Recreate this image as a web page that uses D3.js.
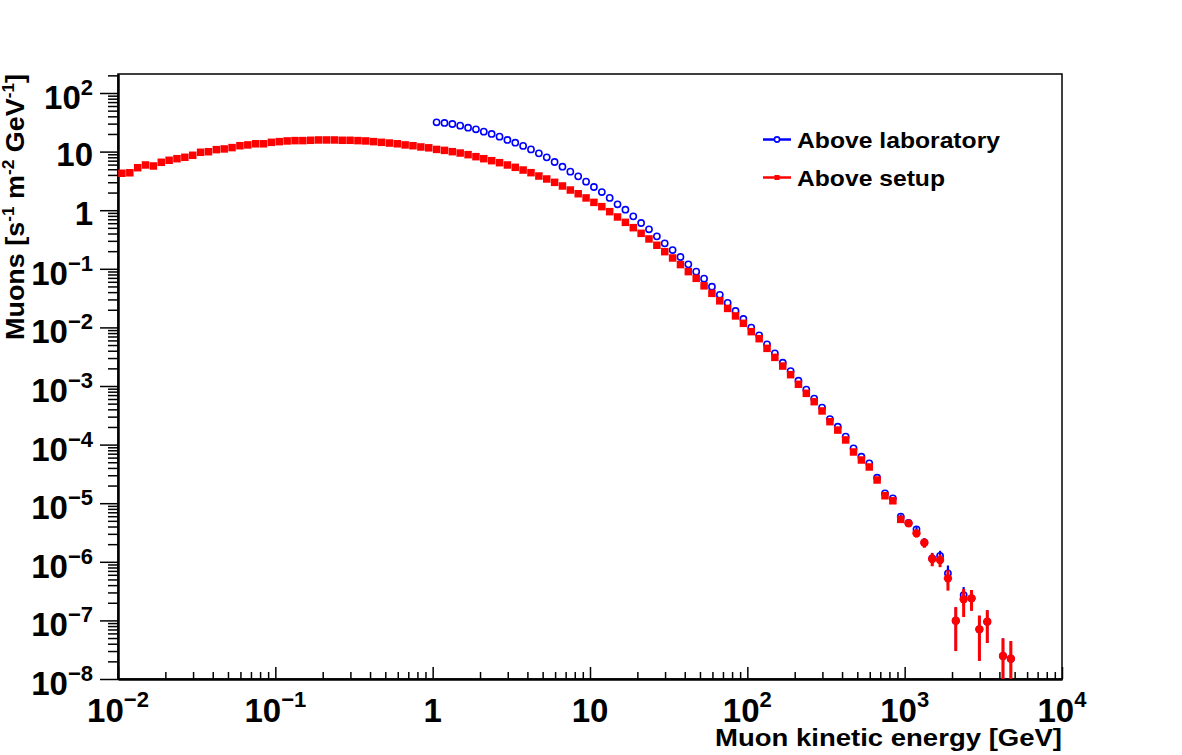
<!DOCTYPE html>
<html><head><meta charset="utf-8">
<script src="https://cdn.jsdelivr.net/npm/d3@7"></script>
<style>
body{margin:0;background:#fff}
svg text{font-family:"Liberation Sans",Arial,Helvetica,sans-serif;font-weight:bold;fill:#000}
</style>
</head><body>
<svg id="c" width="1182" height="755"></svg>
<script>
// ---- data ----
// bin centres (GeV), 20 log bins per decade
const energy = [
 0.01059,0.01189,0.01334,0.01496,0.01679,0.01884,0.02113,0.02371,0.02661,0.02985,
 0.03350,0.03758,0.04217,0.04732,0.05309,0.05957,0.06683,0.07499,0.08414,0.09441,
 0.1059,0.1189,0.1334,0.1496,0.1679,0.1884,0.2113,0.2371,0.2661,0.2985,
 0.3350,0.3758,0.4217,0.4732,0.5309,0.5957,0.6683,0.7499,0.8414,0.9441,
 1.059,1.189,1.334,1.496,1.679,1.884,2.113,2.371,2.661,2.985,
 3.350,3.758,4.217,4.732,5.309,5.957,6.683,7.499,8.414,9.441,
 10.59,11.89,13.34,14.96,16.79,18.84,21.13,23.71,26.61,29.85,
 33.50,37.58,42.17,47.32,53.09,59.57,66.83,74.99,84.14,94.41,
 105.9,118.9,133.4,149.6,167.9,188.4,211.3,237.1,266.1,298.5,
 335.0,375.8,421.7,473.2,530.9,595.7,668.3,749.9,841.4,944.1,
 1059,1189,1334,1496,1679,1884,2113,2371,2661,2985,
 3350,3758,4217,4732
];
// "Above setup" (red), one value per energy bin
const aboveSetup = [
 4.27,4.35,5.31,5.91,5.68,6.57,7.11,7.57,8.00,8.65,
 9.73,9.96,10.8,11.1,11.7,12.6,13.0,13.6,13.6,14.4,
 14.8,15.2,15.4,15.4,15.6,15.8,15.8,15.8,15.6,15.6,
 15.4,15.2,14.8,14.4,14.0,13.6,13.0,12.6,12.0,11.6,
 10.9,10.5,9.97,9.46,8.87,8.19,7.57,7.00,6.47,5.91,
 5.39,4.85,4.37,3.83,3.41,2.99,2.59,2.21,1.91,1.62,
 1.36,1.15,0.944,0.766,0.621,0.503,0.403,0.323,0.252,0.196,
 0.153,0.118,0.0894,0.0688,0.0512,0.0381,0.0284,0.0211,0.0157,0.01173,
 0.00846,0.00642,0.00439,0.00308,0.00219,0.00156,0.00107,7.50e-4,5.40e-4,3.75e-4,
 2.46e-4,1.77e-4,1.20e-4,7.48e-5,5.46e-5,4.15e-5,2.49e-5,1.34e-5,1.10e-5,5.30e-6,
 4.53e-6,3.06e-6,2.12e-6,1.12e-6,1.07e-6,5.22e-7,9.9e-8,2.29e-7,2.38e-7,7.04e-8,
 9.52e-8,null,2.47e-8,2.22e-8
];
// errors of "Above setup" (only the high-energy tail is visible)
const aboveSetupErr = [
 0,0,0,0,0,0,0,0,0,0, 0,0,0,0,0,0,0,0,0,0,
 0,0,0,0,0,0,0,0,0,0, 0,0,0,0,0,0,0,0,0,0,
 0,0,0,0,0,0,0,0,0,0, 0,0,0,0,0,0,0,0,0,0,
 0,0,0,0,0,0,0,0,0,0, 0,0,0,0,0,0,0,0,0,0,
 0,0,0,0,0,0,0,0,0,0, 0,0,0,0,0,0,0,0,0,5e-7,
 5e-7,4.5e-7,3.8e-7,2.8e-7,2.6e-7,2.0e-7,6.9e-8,1.15e-7,9.2e-8,5.0e-8,
 5.4e-8,0,2.47e-8,2.22e-8
];
// "Above laboratory" (blue) starts at energy bin 40
const labFirstBin = 40;
const aboveLab = [
 31.6,30.8,29.6,27.7,25.6,24.0,21.9,20.0,18.0,15.8,
 14.2,12.5,10.9,9.34,7.98,6.65,5.53,4.55,3.78,3.07,
 2.49,2.04,1.62,1.26,1.02,0.786,0.605,0.472,0.358,0.272,
 0.209,0.159,0.119,0.0894,0.0679,0.0494,0.0360,0.0262,0.0191,0.0139,
 0.00990,0.00732,0.00514,0.00361,0.00250,0.00180,0.00123,8.66e-4,6.08e-4,4.27e-4,
 2.73e-4,2.02e-4,1.37e-4,8.64e-5,6.22e-5,4.79e-5,2.72e-5,1.47e-5,1.21e-5,5.89e-6,
 4.6e-6,3.58e-6,2.15e-6,1.14e-6,1.26e-6,6.35e-7,9.9e-8,2.71e-7,2.38e-7,7.04e-8,
 9.52e-8,null,2.47e-8,2.22e-8
];
const aboveLabErr = [
 0,0,0,0,0,0,0,0,0,0, 0,0,0,0,0,0,0,0,0,0,
 0,0,0,0,0,0,0,0,0,0, 0,0,0,0,0,0,0,0,0,0,
 0,0,0,0,0,0,0,0,0,0, 0,0,0,0,0,0,0,0,0,5.5e-7,
 5e-7,5e-7,3.8e-7,2.8e-7,2.8e-7,2.3e-7,6.9e-8,1.0e-7,9.2e-8,5.0e-8,
 5.4e-8,0,2.47e-8,2.22e-8
];
const xTickExps = [-2,-1,0,1,2,3,4];
const yTickExps = [2,1,0,-1,-2,-3,-4,-5,-6,-7,-8];
const seriesNames = ["Above laboratory","Above setup"];
const xTitle = "Muon kinetic energy [GeV]";

// ---- layout ----
const svg = d3.select("#c");
const M = {l:118, r:1062, t:74, b:679};
const x = d3.scaleLog().domain([0.01, 1e4]).range([M.l, M.r]);
const y = d3.scaleLog().domain([1e-8, 211]).range([M.b, M.t]);
const BLUE = "#0000ff", RED = "#ff0000";

svg.append("defs").append("clipPath").attr("id","clip")
  .append("rect").attr("x",M.l).attr("y",M.t).attr("width",M.r-M.l).attr("height",M.b-M.t);

// frame
svg.append("rect").attr("x",M.l).attr("y",M.t).attr("width",M.r-M.l).attr("height",M.b-M.t)
  .attr("fill","none").attr("stroke","#000").attr("stroke-width",1.5);

function minors(e0, e1, maxV){
  const out=[];
  for(let e=e0;e<e1;e++) for(let k=2;k<=9;k++){const v=k*Math.pow(10,e); if(v<=maxV) out.push(v);}
  return out;
}
function expText(e){ return e===0 ? null : e===1 ? null : (e<0 ? "\u2212"+(-e) : String(e)); }
function baseText(e){ return e===0 ? "1" : "10"; }

// y axis ticks (outside, to the left)
const yMajor = yTickExps.map(e=>Math.pow(10,e));
const gyMin = svg.append("g").attr("transform",`translate(${M.l},0)`)
  .call(d3.axisLeft(y).tickValues(minors(-8,3,211)).tickSize(10).tickSizeOuter(0).tickFormat(""));
const gy = svg.append("g").attr("transform",`translate(${M.l},0)`)
  .call(d3.axisLeft(y).tickValues(yMajor).tickSize(18).tickSizeOuter(0).tickFormat(""));
[gyMin,gy].forEach(g=>{g.selectAll(".tick line").attr("stroke","#000").attr("stroke-width",1.5);
  g.select(".domain").attr("stroke","#000").attr("stroke-width",2);});

// x axis ticks (inside, upwards)
const xMajor = xTickExps.map(e=>Math.pow(10,e));
const gxMin = svg.append("g").attr("transform",`translate(0,${M.b})`)
  .call(d3.axisBottom(x).tickValues(minors(-2,4,1e4)).tickSize(-7).tickSizeOuter(0).tickFormat(""));
const gx = svg.append("g").attr("transform",`translate(0,${M.b})`)
  .call(d3.axisBottom(x).tickValues(xMajor).tickSize(-12).tickSizeOuter(0).tickFormat(""));
[gxMin,gx].forEach(g=>{g.selectAll(".tick line").attr("stroke","#000").attr("stroke-width",1.5);
  g.select(".domain").attr("stroke","#000").attr("stroke-width",2);});

// tick labels
const BASE = 33, SUP = 22;
yTickExps.forEach(e=>{
  const ex = expText(e);
  const t = svg.append("text").attr("x",93).attr("y",y(Math.pow(10,e)) + (ex? 16 : 14.5))
    .attr("text-anchor","end").style("font-size",BASE+"px");
  t.append("tspan").text(baseText(e));
  if(ex){ t.append("tspan").attr("dy",-14).style("font-size",SUP+"px").text(ex); }
});
xTickExps.forEach(e=>{
  const ex = expText(e);
  const t = svg.append("text").attr("x",x(Math.pow(10,e))).attr("y",722)
    .attr("text-anchor","middle").style("font-size",BASE+"px");
  t.append("tspan").text(baseText(e));
  if(ex){ t.append("tspan").attr("dy",-15).style("font-size",SUP+"px").text(ex); }
});

// axis titles
svg.append("text").attr("x",M.r).attr("y",746).attr("text-anchor","end")
  .style("font-size","24px").attr("textLength",347).attr("lengthAdjust","spacingAndGlyphs").text(xTitle);
const yt = svg.append("text").attr("transform",`translate(24,${M.t}) rotate(-90)`)
  .attr("text-anchor","end").style("font-size","25px")
  .attr("textLength",266).attr("lengthAdjust","spacingAndGlyphs");
yt.append("tspan").text("Muons [s");
yt.append("tspan").attr("dy",-10).style("font-size","16px").text("-1");
yt.append("tspan").attr("dy",10).text(" m");
yt.append("tspan").attr("dy",-10).style("font-size","16px").text("-2");
yt.append("tspan").attr("dy",10).text(" GeV");
yt.append("tspan").attr("dy",-10).style("font-size","16px").text("-1");
yt.append("tspan").attr("dy",10).text("]");

// ---- data marks ----
const plot = svg.append("g").attr("clip-path","url(#clip)");
const labPts = aboveLab.map((v,j)=>({e:energy[labFirstBin+j], v, err:aboveLabErr[j]})).filter(d=>d.v!=null);
const setPts = aboveSetup.map((v,i)=>({e:energy[i], v, err:aboveSetupErr[i]})).filter(d=>d.v!=null);
const lowClamp = 1e-9;

plot.append("g").selectAll("line").data(labPts.filter(d=>d.err>0)).join("line")
  .attr("x1",d=>x(d.e)).attr("x2",d=>x(d.e))
  .attr("y1",d=>y(Math.max(d.v-d.err,lowClamp))).attr("y2",d=>y(d.v+d.err))
  .attr("stroke",BLUE).attr("stroke-width",2.2);
plot.append("g").selectAll("circle").data(labPts).join("circle")
  .attr("cx",d=>x(d.e)).attr("cy",d=>y(d.v)).attr("r",3.1)
  .attr("fill","none").attr("stroke",BLUE).attr("stroke-width",1.6);

plot.append("g").selectAll("line").data(setPts.filter(d=>d.err>0)).join("line")
  .attr("x1",d=>x(d.e)).attr("x2",d=>x(d.e))
  .attr("y1",d=>y(Math.max(d.v-d.err,lowClamp))).attr("y2",d=>y(d.v+d.err))
  .attr("stroke",RED).attr("stroke-width",3);
const S = 7.5;
plot.append("g").selectAll("rect").data(setPts.filter(d=>d.e<1000)).join("rect")
  .attr("x",d=>x(d.e)-S/2).attr("y",d=>y(d.v)-S/2).attr("width",S).attr("height",S)
  .attr("fill",RED);
plot.append("g").selectAll("circle").data(setPts.filter(d=>d.e>=1000)).join("circle")
  .attr("cx",d=>x(d.e)).attr("cy",d=>y(d.v)).attr("r",4.2).attr("fill",RED);

// ---- legend ----
const lg = svg.append("g");
const legY = [139.5, 177.5];
[BLUE, RED].forEach((c,i)=>{
  lg.append("line").attr("x1",763).attr("x2",791).attr("y1",legY[i]).attr("y2",legY[i])
    .attr("stroke",c).attr("stroke-width",2.5);
  if(i===0) lg.append("circle").attr("cx",777).attr("cy",legY[i]).attr("r",2.6)
    .attr("fill","#fff").attr("stroke",c).attr("stroke-width",1.6);
  else lg.append("rect").attr("x",774.5).attr("y",legY[i]-2.5).attr("width",5).attr("height",5).attr("fill",c);
  const t = lg.append("text").attr("x",797).attr("y",legY[i]+8.5).style("font-size","22.5px").text(seriesNames[i]);
  t.attr("textLength", i===0 ? 203 : 148).attr("lengthAdjust","spacingAndGlyphs");
});
</script>
</body></html>
